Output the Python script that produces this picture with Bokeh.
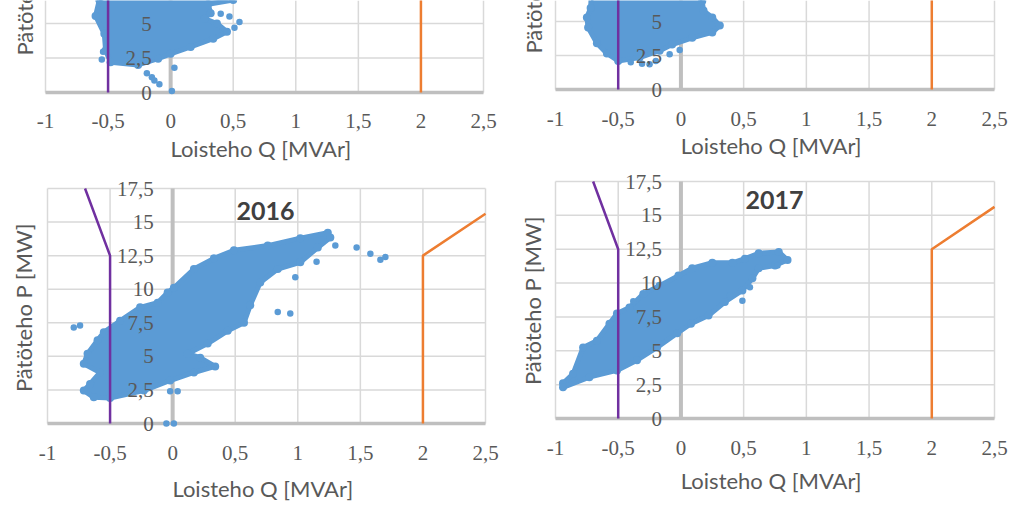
from math import pi
from bokeh.plotting import figure
from bokeh.layouts import row, column
from bokeh.models import Range1d, Label, LabelSet, ColumnDataSource
from bokeh.embed import file_html
from bokeh.resources import INLINE

# ---------------- data ----------------
x_ticks = [-1.0, -0.5, 0.0, 0.5, 1.0, 1.5, 2.0, 2.5]
x_tick_labels = ["-1", "-0,5", "0", "0,5", "1", "1,5", "2", "2,5"]
y_ticks = [0.0, 2.5, 5.0, 7.5, 10.0, 12.5, 15.0, 17.5]
y_tick_labels = ["0", "2,5", "5", "7,5", "10", "12,5", "15", "17,5"]

# reactive power limit curves (Q [MVAr], P [MW])
limit_min_q = [-0.5, -0.5, -0.7]
limit_min_p = [0.0, 12.5, 17.5]
limit_max_q = [2.0, 2.0, 2.5]
limit_max_p = [0.0, 12.5, 15.625]

# dense measurement clouds (outline of the point mass) and separate points
cloud_tl_q = [-0.56, -0.57, -0.60, -0.53, -0.52, -0.48, -0.26, -0.10, 0.00, 0.16, 0.34, 0.45, 0.37, 0.27, 0.32, 0.30, 0.50, 0.50]
cloud_tl_p = [8.0, 6.7, 5.55, 4.25, 3.05, 2.2, 2.0, 2.45, 2.8, 3.3, 3.9, 4.4, 5.0, 5.35, 5.75, 6.4, 6.7, 8.0]
pts_tl_q = [0.40, 0.47, 0.55, 0.51, -0.19, -0.15, -0.13, -0.09, 0.03, 0.01, -0.55, -0.54]
pts_tl_p = [5.7, 5.5, 5.1, 4.7, 1.4, 1.1, 0.87, 0.6, 1.8, 0.1, 2.4, 2.95]

cloud_tr_q = [-0.71, -0.72, -0.75, -0.74, -0.67, -0.59, -0.50, -0.33, -0.17, -0.07, 0.09, 0.25, 0.31, 0.25, 0.18, 0.17, 0.20]
cloud_tr_p = [8.0, 6.0, 5.3, 4.55, 3.4, 2.65, 2.1, 2.35, 2.85, 3.3, 3.8, 4.2, 4.7, 5.3, 5.8, 6.5, 8.0]
pts_tr_q = [-0.40, -0.31, -0.25, -0.20, -0.09, -0.01]
pts_tr_p = [2.0, 1.9, 1.85, 2.1, 2.6, 2.9]

cloud_2016_q = [-0.63, -0.71, -0.66, -0.58, -0.71, -0.68, -0.60, -0.55, -0.42, -0.26, -0.12, -0.04, 0.01, 0.17, 0.33, 0.49, 0.76, 1.02, 1.24, 1.26,
                1.16, 1.02, 0.84, 0.70, 0.62, 0.57, 0.44, 0.28, 0.12, 0.22, 0.34, 0.17, -0.02, -0.23, -0.50]
cloud_2016_p = [1.95, 2.45, 2.95, 3.8, 4.45, 5.2, 6.2, 6.8, 7.65, 8.65, 9.0, 9.75, 10.1, 11.5, 12.3, 12.9, 13.25, 13.8, 14.2, 13.85,
                13.1, 12.0, 11.5, 10.5, 8.8, 7.5, 6.9, 5.95, 5.2, 4.9, 4.25, 3.8, 3.2, 2.45, 1.9]
pts_2016_q = [-0.79, -0.74, 0.84, 0.94, 1.47, 1.58, 1.66, 1.70, 1.30, 0.98, 1.15, -0.02, 0.04, -0.05, 0.01]
pts_2016_p = [7.15, 7.3, 8.3, 8.2, 13.1, 12.65, 12.2, 12.4, 13.25, 10.9, 12.05, 2.4, 2.4, 0.0, 0.0]

cloud_2017_q = [-0.94, -0.86, -0.78, -0.67, -0.57, -0.51, -0.41, -0.30, -0.17, -0.02, 0.09, 0.25, 0.41, 0.51, 0.62, 0.78, 0.85,
                0.75, 0.62, 0.57, 0.49, 0.35, 0.22, 0.08, -0.03, -0.19, -0.35, -0.51, -0.73, -0.94]
cloud_2017_p = [2.6, 3.3, 5.25, 5.75, 7.0, 7.75, 8.2, 9.2, 9.8, 10.55, 11.1, 11.5, 11.5, 11.8, 12.2, 12.3, 11.7,
                11.3, 11.1, 10.35, 9.45, 8.6, 7.6, 7.0, 6.3, 5.25, 4.3, 3.55, 3.05, 2.3]
pts_2017_q = [-0.38, 0.39, 0.49, 0.55, 0.77]
pts_2017_p = [8.65, 9.1, 8.7, 9.7, 11.3]

# ---------------- style ----------------
FONT = "Lato"
TXT = "#595959"
GRID = "#D9D9D9"
AXIS = "#BFBFBF"
BLUE = "#5B9BD5"
PURPLE = "#7030A0"
ORANGE = "#ED7D31"
TICK_SIZE = "21px"
TITLE_SIZE = "22px"
Q_MIN, Q_MAX, P_MAX = -1.0, 2.5, 17.5


def panel(W, H, xl, xr, y0, ppu_y, xlab_off, xtitle_off, cloud, pts,
          ytitle_px, ytitle_cut=False, year=None, year_px=None):
    """xl, xr: canvas px of Q=-1 and Q=2.5; y0: canvas px of P=0; ppu_y: px per MW."""
    ppu_x = (xr - xl) / (Q_MAX - Q_MIN)
    x0 = Q_MIN - xl / ppu_x
    x1 = Q_MAX + (W - xr) / ppu_x
    ya = -(H - y0) / ppu_y
    yb = y0 / ppu_y

    def qx(px):
        return Q_MIN + (px - xl) / ppu_x

    def py(pv):
        return (y0 - pv) / ppu_y

    p = figure(width=W, height=H, x_range=Range1d(x0, x1), y_range=Range1d(ya, yb),
               output_backend="svg", toolbar_location=None,
               min_border=0, background_fill_color="white", border_fill_color="white",
               outline_line_color=None)
    p.axis.visible = False
    p.grid.visible = False

    top = min(P_MAX, yb)
    # gridlines of the plot area
    p.segment(x0=x_ticks, x1=x_ticks, y0=[0.0] * len(x_ticks), y1=[top] * len(x_ticks),
              line_color=GRID, line_width=1.5)
    yt = [t for t in y_ticks if t <= top + 1e-9]
    p.segment(x0=[Q_MIN] * len(yt), x1=[Q_MAX] * len(yt), y0=yt, y1=yt,
              line_color=GRID, line_width=1.5)
    # axis lines crossing at the origin
    p.segment(x0=[Q_MIN], x1=[Q_MAX], y0=[0.0], y1=[0.0], line_color=AXIS, line_width=3.5)
    p.segment(x0=[0.0], x1=[0.0], y0=[0.0], y1=[top], line_color=AXIS, line_width=4)

    p.patch(cloud[0], cloud[1], fill_color=BLUE, line_color=BLUE, line_width=5, line_join="round")
    p.scatter(cloud[0], cloud[1], size=8, fill_color=BLUE, line_color=None)
    p.scatter(pts[0], pts[1], size=6.5, fill_color=BLUE, line_color=None)

    p.line(limit_min_q, limit_min_p, line_color=PURPLE, line_width=2.5)
    p.line(limit_max_q, limit_max_p, line_color=ORANGE, line_width=2.5)

    # y tick labels next to the vertical axis
    ys = ColumnDataSource(dict(x=[0.0] * len(yt), y=yt, text=y_tick_labels[:len(yt)]))
    p.add_layout(LabelSet(x="x", y="y", text="text", source=ys, x_offset=-19,
                          text_align="right", text_baseline="middle", text_font=FONT,
                          text_font_size=TICK_SIZE, text_color=TXT))
    # x tick labels under the plot area
    xs = ColumnDataSource(dict(x=x_ticks, y=[0.0] * len(x_ticks), text=x_tick_labels))
    p.add_layout(LabelSet(x="x", y="y", text="text", source=xs, y_offset=-xlab_off,
                          text_align="center", text_baseline="middle", text_font=FONT,
                          text_font_size=TICK_SIZE, text_color=TXT))
    p.add_layout(Label(x=0.72, y=0.0, y_offset=-xtitle_off, text="Loisteho Q [MVAr]",
                       text_align="center", text_baseline="middle", text_font=FONT,
                       text_font_size=TITLE_SIZE, text_color=TXT))
    p.add_layout(Label(x=qx(ytitle_px[0]), y=py(ytitle_px[1]), text="Pätöteho P [MW]", angle=pi / 2,
                       text_align="left" if ytitle_cut else "center", text_baseline="middle",
                       text_font=FONT, text_font_size=TITLE_SIZE, text_color=TXT))
    if year:
        p.add_layout(Label(x=qx(year_px[0]), y=py(year_px[1]), text=year, text_align="center",
                           text_baseline="middle", text_font=FONT, text_font_size="25px",
                           text_font_style="bold", text_color="#404040"))
    return p


tl = panel(512, 170, 45, 483, 92, 13.8, 28, 56, (cloud_tl_q, cloud_tl_p), (pts_tl_q, pts_tl_p),
           ytitle_px=(24, 55), ytitle_cut=True)
tr = panel(512, 170, 43, 482, 89, 13.6, 29, 56, (cloud_tr_q, cloud_tr_p), (pts_tr_q, pts_tr_p),
           ytitle_px=(21, 53), ytitle_cut=True)
bl = panel(512, 337, 47, 485, 253, 235 / 17.5, 29, 65, (cloud_2016_q, cloud_2016_p), (pts_2016_q, pts_2016_p),
           ytitle_px=(23, 137), year="2016", year_px=(265, 40))
br = panel(512, 337, 43, 482, 248, 237 / 17.5, 29, 62, (cloud_2017_q, cloud_2017_p), (pts_2017_q, pts_2017_p),
           ytitle_px=(20, 130), year="2017", year_px=(262, 29))

layout = column(row(tl, tr), row(bl, br))
open("out.html", "w").write(file_html(layout, INLINE))
